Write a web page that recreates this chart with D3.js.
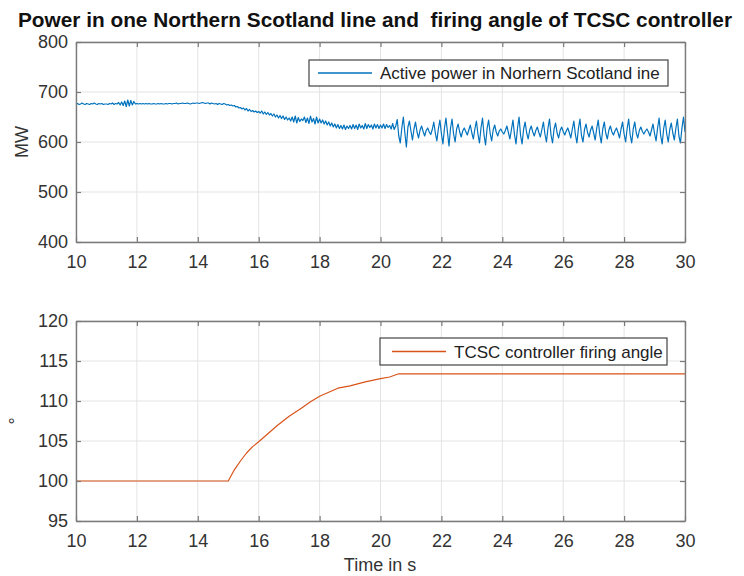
<!DOCTYPE html>
<html><head><meta charset="utf-8">
<script src="https://cdn.jsdelivr.net/npm/d3@7/dist/d3.min.js"></script>
<style>body{margin:0;background:#fff}svg{display:block}text{font-family:"Liberation Sans",Arial,sans-serif;white-space:pre}</style>
</head><body>
<script>
// ---- data ----
const titleText = "Power in one Northern Scotland line and  firing angle of TCSC controller";
const xTicks = [10,12,14,16,18,20,22,24,26,28,30];
const powerYTicks = [400,500,600,700,800];
const angleYTicks = [95,100,105,110,115,120];
const powerTimeStart = 10, powerTimeStep = 0.05;
const powerValues = [
676,677,675,676,678,676,675,677,676,675,677,676,678,676,675,677,676,677,675,676,
676,675,677,676,678,675,677,676,679,674,680,673,682,671,684,672,683,674,681,676,
677,676,677,676,677,676,677,676,677,676,676,677,676,676,677,676,677,676,676,677,
676,677,677,676,677,677,678,676,677,677,678,677,677,678,677,676,677,678,677,678,
678,677,678,679,678,677,678,678,676,678,677,676,677,675,677,676,675,677,676,674,
675,673,674,672,673,670,671,668,669,666,668,664,667,662,665,661,663,660,662,659,
661,658,662,656,660,655,659,654,657,652,656,650,654,648,653,647,652,645,650,644,
648,642,650,640,652,638,649,641,646,643,650,639,648,637,652,640,647,636,650,638,
646,638,644,636,642,634,640,632,638,630,636,628,635,627,633,626,634,625,632,627,
633,626,635,627,634,625,636,628,633,626,637,627,635,629,634,626,636,628,635,627,
634,628,636,627,635,629,633,626,637,625,632,645,612,598,628,650,618,590,630,642,
622,604,626,640,620,608,624,632,621,612,623,628,620,615,625,640,618,602,626,644,
617,596,627,648,619,592,628,646,616,600,626,636,620,610,622,628,621,614,624,634,
618,606,626,642,616,598,628,648,614,594,627,644,618,602,624,634,620,612,622,626,
620,616,623,632,619,606,625,644,615,596,628,650,613,596,626,640,618,606,624,632,
620,612,623,630,619,610,625,640,616,600,628,646,614,598,626,638,618,608,623,630,
621,614,622,628,619,608,626,642,615,598,627,646,613,600,625,636,619,610,624,632,
618,604,627,644,615,598,626,640,617,606,624,632,620,614,622,628,619,608,626,640,
616,600,627,646,614,598,626,640,618,608,623,630,621,616,622,626,620,612,624,636,
617,602,628,648,613,596,627,644,616,600,625,638,618,604,627,646,612,598,628,650,
620];
const angleTimes  = [10, 15, 15.2, 15.4, 15.6, 15.8, 16, 16.3, 16.6, 17, 17.4, 17.7, 18, 18.3, 18.6, 19, 19.5, 20, 20.3, 20.6, 30];
const angleValues = [100,100,101.4,102.5,103.5,104.3,104.9,105.9,106.9,108.1,109.1,109.9,110.6,111.1,111.6,111.9,112.4,112.8,113.0,113.4,113.4];
const powerLegend = "Active power in Norhern Scotland ine";
const angleLegend = "TCSC controller firing angle";
const powerYLabel = "MW", angleYLabel = "°", xLabel = "Time in s";

// ---- drawing ----
const W = 744, H = 576;
const svg = d3.select("body").append("svg").attr("width", W).attr("height", H);
const L = 76, R = 685;
const x = d3.scaleLinear().domain([10,30]).range([L,R]);

svg.append("text").attr("x", 375).attr("y", 27).attr("text-anchor","middle")
  .attr("font-weight","bold").attr("font-size",20).attr("fill","#111")
  .attr("textLength", 714).attr("lengthAdjust","spacingAndGlyphs").text(titleText);

function panel(top, bottom, yDomain, yTicks, series, color, legendText, legendBox, yLabel, yLabelPos) {
  const y = d3.scaleLinear().domain(yDomain).range([bottom, top]);
  const g = svg.append("g");
  // grid
  g.selectAll(".gx").data(xTicks).join("line").attr("x1", d=>x(d)).attr("x2", d=>x(d))
    .attr("y1", top).attr("y2", bottom).attr("stroke", "#e3e3e3").attr("stroke-width", 1);
  g.selectAll(".gy").data(yTicks).join("line").attr("y1", d=>y(d)).attr("y2", d=>y(d))
    .attr("x1", L).attr("x2", R).attr("stroke", "#e3e3e3").attr("stroke-width", 1);
  // line
  const line = d3.line().x(d=>x(d[0])).y(d=>y(d[1]));
  g.append("path").datum(series).attr("d", line).attr("fill","none")
    .attr("stroke", color).attr("stroke-width", 1.2).attr("stroke-linejoin","round");
  // axes
  const axisCol = "#7a7a7a";
  const xa = g.append("g").attr("transform", `translate(0,${bottom})`)
    .call(d3.axisBottom(x).tickValues(xTicks).tickSizeInner(-5).tickSizeOuter(0).tickPadding(13));
  const xt = g.append("g").attr("transform", `translate(0,${top})`)
    .call(d3.axisTop(x).tickValues(xTicks).tickSizeInner(-5).tickSizeOuter(0).tickFormat(""));
  const ya = g.append("g").attr("transform", `translate(${L},0)`)
    .call(d3.axisLeft(y).tickValues(yTicks).tickSizeInner(-5).tickSizeOuter(0).tickPadding(8));
  const yr = g.append("g").attr("transform", `translate(${R},0)`)
    .call(d3.axisRight(y).tickValues(yTicks).tickSizeInner(-5).tickSizeOuter(0).tickFormat(""));
  [xa, xt, ya, yr].forEach(a => {
    a.select(".domain").attr("stroke", axisCol).attr("stroke-width", 1.4);
    a.selectAll(".tick line").attr("stroke", axisCol).attr("stroke-width", 1.2);
    a.selectAll("text").attr("font-size", 18).attr("fill", "#333").attr("font-family", '"Liberation Sans", Arial, sans-serif');
  });
  // legend
  const [lx, ly, lw, lh, sx1, sx2, tx] = legendBox;
  g.append("rect").attr("x", lx).attr("y", ly).attr("width", lw).attr("height", lh)
    .attr("fill", "#fff").attr("stroke", "#444").attr("stroke-width", 1.2);
  g.append("line").attr("x1", sx1).attr("x2", sx2).attr("y1", ly+lh/2).attr("y2", ly+lh/2)
    .attr("stroke", color).attr("stroke-width", 1.5);
  g.append("text").attr("x", tx).attr("y", ly+lh/2+6).attr("font-size", 17).attr("fill","#222").text(legendText);
  // y label
  g.append("text").attr("transform", `translate(${yLabelPos[0]},${yLabelPos[1]}) rotate(-90)`)
    .attr("text-anchor","middle").attr("font-size", 18).attr("fill","#333").text(yLabel);
}

const powerSeries = powerValues.map((v,i) => [powerTimeStart + i*powerTimeStep, v]);
const angleSeries = angleTimes.map((t,i) => [t, angleValues[i]]);

panel(42, 242, [400,800], powerYTicks, powerSeries, "#0072BD", powerLegend,
  [309, 60, 359, 26, 318, 372, 380], powerYLabel, [28, 142]);
panel(321, 521, [95,120], angleYTicks, angleSeries, "#D95319", angleLegend,
  [380, 338, 287, 27, 392, 446, 454], angleYLabel, [22, 421]);

svg.append("text").attr("x", 380).attr("y", 571).attr("text-anchor","middle")
  .attr("font-size", 18).attr("fill","#333").text(xLabel);
</script>
</body></html>
